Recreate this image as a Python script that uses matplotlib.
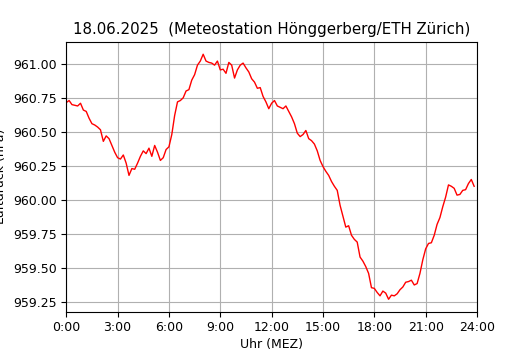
import numpy as np
import matplotlib
matplotlib.use("Agg")
import matplotlib.pyplot as plt

# Luftdruck alle 10 Minuten, 0:00 - 23:50 (hPa)
pressure = [
    960.715, 960.73, 960.70, 960.695, 960.69, 960.71, 960.66, 960.65, 960.60, 960.56, 960.55, 960.535,
    960.515, 960.43, 960.47, 960.45, 960.40, 960.35, 960.31, 960.30, 960.33, 960.27, 960.18, 960.23,
    960.225, 960.27, 960.32, 960.36, 960.34, 960.38, 960.32, 960.40, 960.35, 960.29, 960.31, 960.37,
    960.39, 960.48, 960.62, 960.72, 960.73, 960.75, 960.80, 960.81, 960.88, 960.92, 960.99, 961.02,
    961.07, 961.02, 961.01, 961.005, 960.99, 961.02, 960.955, 960.96, 960.93, 961.01, 960.99, 960.895,
    960.955, 960.99, 961.005, 960.97, 960.94, 960.89, 960.865, 960.82, 960.825, 960.76, 960.72, 960.67,
    960.71, 960.73, 960.69, 960.68, 960.67, 960.69, 960.65, 960.61, 960.56, 960.49, 960.465, 960.48,
    960.51, 960.45, 960.435, 960.41, 960.36, 960.29, 960.245, 960.21, 960.18, 960.135, 960.10, 960.07,
    959.96, 959.88, 959.80, 959.81, 959.74, 959.71, 959.69, 959.58, 959.55, 959.51, 959.46, 959.355,
    959.35, 959.32, 959.295, 959.33, 959.315, 959.27, 959.30, 959.295, 959.31, 959.34, 959.36, 959.395,
    959.40, 959.41, 959.375, 959.385, 959.46, 959.56, 959.64, 959.68, 959.685, 959.74, 959.82, 959.87,
    959.95, 960.02, 960.11, 960.10, 960.085, 960.035, 960.04, 960.07, 960.075, 960.12, 960.15, 960.10,
]
step_minutes = 10
tick_hours = [0, 3, 6, 9, 12, 15, 18, 21, 24]
tick_labels = ["%d:00" % h for h in tick_hours]

hours = np.arange(len(pressure)) * step_minutes / 60.0

fig = plt.figure(figsize=(5.3, 3.5), dpi=100)
plt.plot(hours, pressure, color="red", linewidth=1)
plt.xlim(0, 24)
plt.xticks(tick_hours, tick_labels)
plt.grid(True)
plt.title("18.06.2025  (Meteostation Hönggerberg/ETH Zürich)", fontsize=10.8)
plt.xlabel("Uhr (MEZ)", fontsize=9, labelpad=3)
plt.ylabel("Luftdruck (hPa)", fontsize=9)
plt.tick_params(labelsize=9)
plt.gca().yaxis.set_major_formatter(matplotlib.ticker.FormatStrFormatter("%.2f"))

plt.savefig("out.png", dpi=100)
